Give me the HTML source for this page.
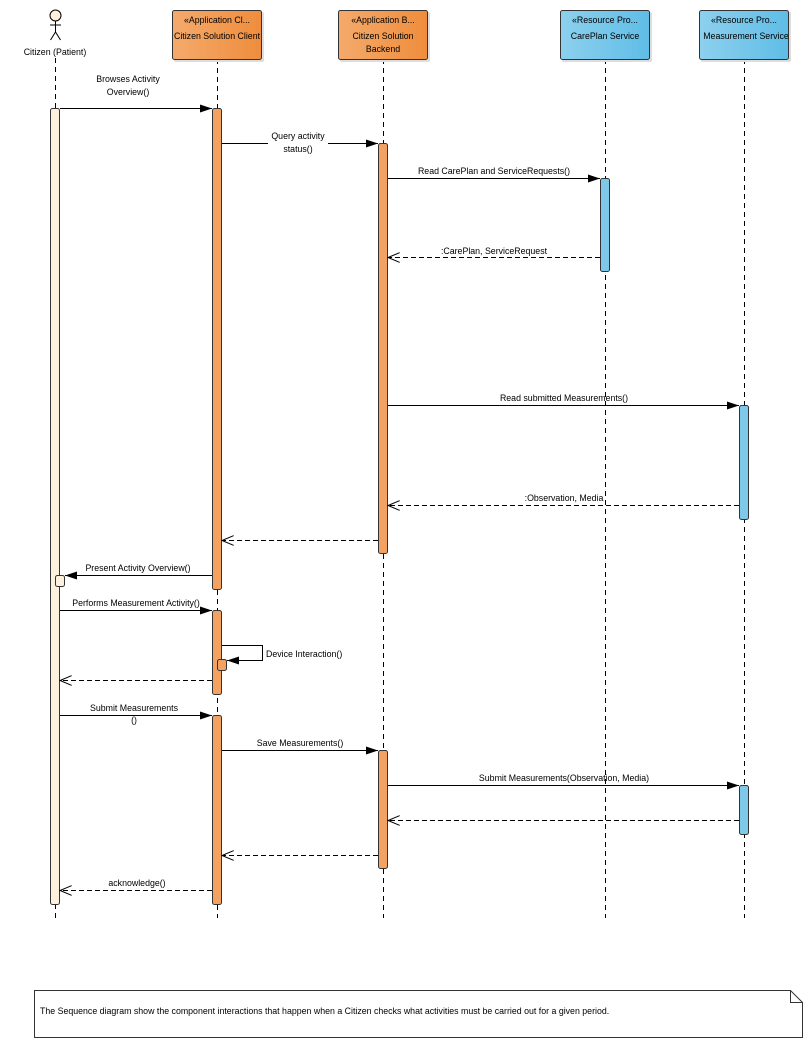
<!DOCTYPE html>
<html><head><meta charset="utf-8"><style>
html,body{margin:0;padding:0;background:#fff;}
svg{display:block;font-family:"Liberation Sans",sans-serif;font-size:8.8px;}
</style></head><body>
<svg width="812" height="1047" viewBox="0 0 812 1047" xmlns="http://www.w3.org/2000/svg">
<defs>
<linearGradient id="og" x1="0" x2="1"><stop offset="0" stop-color="#f4aa6c"/><stop offset="1" stop-color="#ef8d3c"/></linearGradient>
<linearGradient id="bg" x1="0" x2="1"><stop offset="0" stop-color="#8dd0ee"/><stop offset="1" stop-color="#5fbde6"/></linearGradient>
<marker id="fa" markerWidth="12" markerHeight="8" refX="12" refY="4" orient="auto" markerUnits="userSpaceOnUse"><path d="M0,0 L12,4 L0,8 z" fill="#000"/></marker>
<marker id="oa" markerWidth="13" markerHeight="10" refX="12" refY="5" orient="auto" markerUnits="userSpaceOnUse"><path d="M0,0 L12,5 L0,10" fill="none" stroke="#000"/></marker>
</defs>
<g stroke="#000" stroke-dasharray="5,4" stroke-width="1">
<line x1="55.5" y1="58" x2="55.5" y2="918"/>
<line x1="217.5" y1="59" x2="217.5" y2="918"/>
<line x1="383.5" y1="59" x2="383.5" y2="918"/>
<line x1="605.5" y1="59" x2="605.5" y2="918"/>
<line x1="744.5" y1="59" x2="744.5" y2="918"/>
</g>
<g stroke="#000" fill="none">
<circle cx="55.5" cy="15.5" r="5.5" fill="#fdf0dc"/>
<line x1="55.5" y1="21" x2="55.5" y2="32"/>
<line x1="50" y1="25" x2="61" y2="25"/>
<line x1="55.5" y1="32" x2="50.5" y2="40"/>
<line x1="55.5" y1="32" x2="60.5" y2="40"/>
</g>
<text x="55" y="55" text-anchor="middle">Citizen (Patient)</text>
<g fill="#ddd">
<rect x="174" y="12" width="90" height="50" rx="2"/>
<rect x="340" y="12" width="90" height="50" rx="2"/>
<rect x="562" y="12" width="90" height="50" rx="2"/>
<rect x="701" y="12" width="90" height="50" rx="2"/>
</g>
<g stroke="#333" stroke-width="1">
<rect x="172.5" y="10.5" width="89" height="49" rx="2" fill="url(#og)"/>
<rect x="338.5" y="10.5" width="89" height="49" rx="2" fill="url(#og)"/>
<rect x="560.5" y="10.5" width="89" height="49" rx="2" fill="url(#bg)"/>
<rect x="699.5" y="10.5" width="89" height="49" rx="2" fill="url(#bg)"/>
</g>
<g text-anchor="middle">
<text x="217" y="23">«Application Cl...</text><text x="217" y="39">Citizen Solution Client</text>
<text x="383" y="23">«Application B...</text><text x="383" y="39">Citizen Solution</text><text x="383" y="52">Backend</text>
<text x="605" y="23">«Resource Pro...</text><text x="605" y="39">CarePlan Service</text>
<text x="744" y="23">«Resource Pro...</text><text x="746" y="39">Measurement Service</text>
</g>
<g stroke="#333" stroke-width="1">
<rect x="50.5" y="108.5" width="9" height="796" rx="2" fill="#fdf0dc"/>
<rect x="55.5" y="575.5" width="9" height="11" rx="2" fill="#fdf0dc"/>
<rect x="212.5" y="108.5" width="9" height="481" rx="2" fill="#f4a261"/>
<rect x="212.5" y="610.5" width="9" height="84" rx="2" fill="#f4a261"/>
<rect x="217.5" y="659.5" width="9" height="11" rx="2" fill="#f4a261"/>
<rect x="212.5" y="715.5" width="9" height="189" rx="2" fill="#f4a261"/>
<rect x="378.5" y="143.5" width="9" height="410" rx="2" fill="#f4a261"/>
<rect x="378.5" y="750.5" width="9" height="118" rx="2" fill="#f4a261"/>
<rect x="600.5" y="178.5" width="9" height="93" rx="2" fill="#7ec8ea"/>
<rect x="739.5" y="405.5" width="9" height="114" rx="2" fill="#7ec8ea"/>
<rect x="739.5" y="785.5" width="9" height="49" rx="2" fill="#7ec8ea"/>
</g>
<g stroke="#000" stroke-width="1" fill="none">
<line x1="60" y1="108.5" x2="212" y2="108.5" marker-end="url(#fa)"/>
<line x1="222" y1="143.5" x2="378" y2="143.5" marker-end="url(#fa)"/>
<line x1="388" y1="178.5" x2="600" y2="178.5" marker-end="url(#fa)"/>
<line x1="600" y1="257.5" x2="388" y2="257.5" stroke-dasharray="5,3" marker-end="url(#oa)"/>
<line x1="388" y1="405.5" x2="739" y2="405.5" marker-end="url(#fa)"/>
<line x1="739" y1="505.5" x2="388" y2="505.5" stroke-dasharray="5,3" marker-end="url(#oa)"/>
<line x1="378" y1="540.5" x2="222" y2="540.5" stroke-dasharray="5,3" marker-end="url(#oa)"/>
<line x1="212" y1="575.5" x2="65" y2="575.5" marker-end="url(#fa)"/>
<line x1="60" y1="610.5" x2="212" y2="610.5" marker-end="url(#fa)"/>
<path d="M222,645.5 H262.5 V660.5 H227" marker-end="url(#fa)"/>
<line x1="212" y1="680.5" x2="60" y2="680.5" stroke-dasharray="5,3" marker-end="url(#oa)"/>
<line x1="60" y1="715.5" x2="212" y2="715.5" marker-end="url(#fa)"/>
<line x1="222" y1="750.5" x2="378" y2="750.5" marker-end="url(#fa)"/>
<line x1="388" y1="785.5" x2="739" y2="785.5" marker-end="url(#fa)"/>
<line x1="739" y1="820.5" x2="388" y2="820.5" stroke-dasharray="5,3" marker-end="url(#oa)"/>
<line x1="378" y1="855.5" x2="222" y2="855.5" stroke-dasharray="5,3" marker-end="url(#oa)"/>
<line x1="212" y1="890.5" x2="60" y2="890.5" stroke-dasharray="5,3" marker-end="url(#oa)"/>
</g>
<g text-anchor="middle">
<text x="128" y="82">Browses Activity</text><text x="128" y="95">Overview()</text>
<rect x="268" y="131" width="60" height="22" fill="#fff"/>
<text x="298" y="139">Query activity</text><text x="298" y="152">status()</text>
<text x="494" y="174">Read CarePlan and ServiceRequests()</text>
<text x="494" y="254">:CarePlan, ServiceRequest</text>
<text x="564" y="401">Read submitted Measurements()</text>
<text x="564" y="501">:Observation, Media</text>
<text x="138" y="571">Present Activity Overview()</text>
<text x="136" y="606">Performs Measurement Activity()</text>
<text x="134" y="711">Submit Measurements</text><text x="134" y="723">()</text>
<text x="300" y="746">Save Measurements()</text>
<text x="564" y="781">Submit Measurements(Observation, Media)</text>
<text x="137" y="886">acknowledge()</text>
</g>
<text x="266" y="657">Device Interaction()</text>
<path d="M34.5,990.5 H790.5 L802.5,1002.5 V1037.5 H34.5 Z" fill="#fff" stroke="#333"/>
<path d="M790.5,990.5 V1002.5 H802.5" fill="none" stroke="#333"/>
<text x="40" y="1014">The Sequence diagram show the component interactions that happen when a Citizen checks what activities must be carried out for a given period.</text>
</svg>
</body></html>
